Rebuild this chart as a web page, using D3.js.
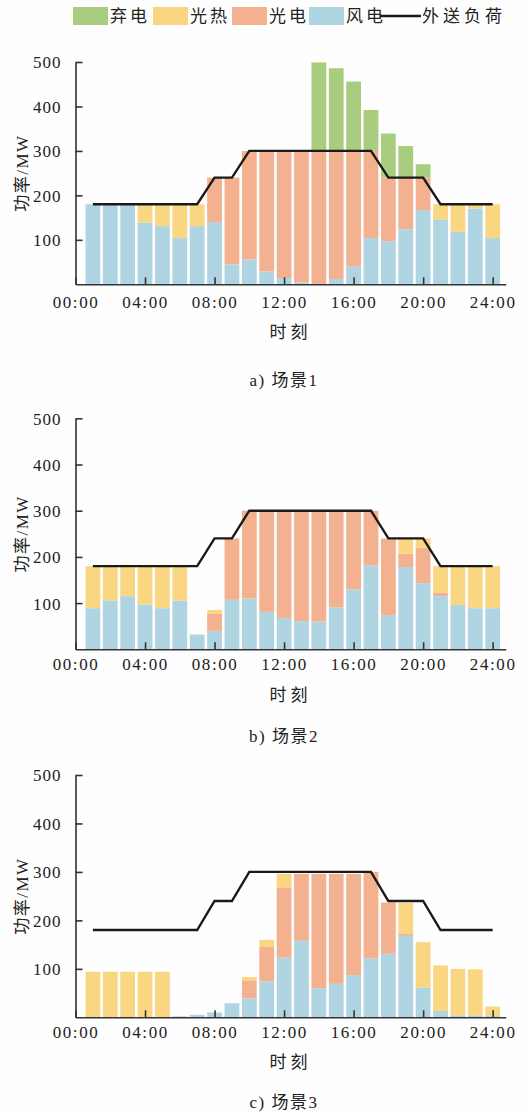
<!DOCTYPE html>
<html><head><meta charset="utf-8">
<script src="https://cdn.jsdelivr.net/npm/d3@7"></script>
<style>
html,body{margin:0;padding:0;background:#fefefe;}
svg{display:block;}
text{fill:#222;font-family:"Liberation Serif","Noto Sans CJK SC",serif;}
</style></head>
<body>
<script>
// ---------- data ----------
const hours = d3.range(1, 25);
const xTickHours = [0, 4, 8, 12, 16, 20, 24];
const xTickLabels = ["00:00", "04:00", "08:00", "12:00", "16:00", "20:00", "24:00"];
const yTicks = [100, 200, 300, 400, 500];
const seriesNames = ["风电", "光电", "光热", "弃电"];
const legendNames = ["弃电", "光热", "光电", "风电"];
const lineName = "外送负荷";
const captions = ["a) 场景1", "b) 场景2", "c) 场景3"];

const load = [180,180,180,180,180,180,180,240,240,300,300,300,300,300,300,300,300,240,240,240,180,180,180,180];

// scenario 1
const wind1    = [180,180,180,139,131,104,131,140,45,56,29,14,4,0,12,40,104,97,124,167,146,118,170,104];
const pv1      = [0,0,0,0,0,0,0,100,195,244,271,286,296,300,288,260,196,143,116,73,0,0,0,0];
const thermal1 = [0,0,0,41,49,76,49,0,0,0,0,0,0,0,0,0,0,0,0,0,34,62,10,76];
const curtail1 = [0,0,0,0,0,0,0,0,0,0,0,0,0,199,186,156,92,99,71,30,0,0,0,0];

// scenario 2
const wind2    = [89,106,115,97,89,105,32,40,107,110,81,68,61,60,91,130,182,74,178,143,115,96,89,89];
const pv2      = [0,0,0,0,0,0,0,37,133,190,219,232,239,240,209,170,118,166,29,77,8,0,0,0];
const thermal2 = [91,74,65,83,91,75,0,8,0,0,0,0,0,0,0,0,0,0,33,20,57,84,91,91];
const curtail2 = [0,0,0,0,0,0,0,0,0,0,0,0,0,0,0,0,0,0,0,0,0,0,0,0];

// scenario 3
const wind3    = [0,0,0,0,0,2,5,10,29,39,74,123,158,60,69,87,122,131,168,61,13,4,3,3];
const pv3      = [0,0,0,0,0,0,0,0,0,36,71,145,138,236,227,209,178,106,4,0,0,0,0,0];
const thermal3 = [94,94,94,94,94,0,0,0,0,8,15,28,0,0,0,0,0,0,64,94,94,96,96,19];
const curtail3 = [0,0,0,0,0,0,0,0,0,0,0,0,0,0,0,0,0,0,0,0,0,0,0,0];

const scenarios = [
  [wind1, pv1, thermal1, curtail1],
  [wind2, pv2, thermal2, curtail2],
  [wind3, pv3, thermal3, curtail3]
];

// ---------- style / layout ----------
const W = 528, H = 1115;
const colors = {"风电":"#afd5e3","光电":"#f4b18f","光热":"#fad683","弃电":"#a8cd7e"};
const panels = [
  {y0: 284.3, y500: 62,    tickY: 308,  titleY: 338,  capY: 386},
  {y0: 649.3, y500: 418.3, tickY: 670,  titleY: 701,  capY: 742},
  {y0: 1017.3,y500: 775,   tickY: 1038, titleY: 1068, capY: 1108}
];
const xLeft = 75.5, xRight = 505.7;

const svg = d3.select("body").append("svg").attr("width", W).attr("height", H);

const x = d3.scaleLinear().domain([0, 24.75]).range([xLeft, xRight]);
const xb = d3.scaleBand().domain(hours).range([x(0.5), x(24.5)]).paddingInner(0.15).paddingOuter(0.075);

const stack = d3.stack().keys(d3.range(4));

panels.forEach((p, i) => {
  const g = svg.append("g");
  const y = d3.scaleLinear().domain([0, 500]).range([p.y0, p.y500]);
  const s = scenarios[i];
  const rows = hours.map((h, k) => [s[0][k], s[1][k], s[2][k], s[3][k]]);
  const layers = stack(rows);

  layers.forEach((layer, li) => {
    g.append("g").attr("fill", colors[seriesNames[li]])
      .selectAll("rect").data(layer).join("rect")
      .attr("x", (d, k) => xb(hours[k]))
      .attr("width", xb.bandwidth())
      .attr("y", d => y(d[1]))
      .attr("height", d => Math.max(0, y(d[0]) - y(d[1])));
  });

  // load line
  g.append("path")
    .datum(load)
    .attr("fill", "none").attr("stroke", "#1a1a1a").attr("stroke-width", 2.4)
    .attr("stroke-linejoin", "miter")
    .attr("d", d3.line().x((d, k) => x(hours[k])).y(d => y(d)));

  // y axis
  const ya = g.append("g").attr("transform", `translate(${xLeft},0)`)
    .call(d3.axisLeft(y).tickValues(yTicks).tickSizeInner(-7).tickSizeOuter(0).tickPadding(14));
  ya.select(".domain").attr("stroke", "#333").attr("stroke-width", 1.6);
  ya.selectAll(".tick line").attr("stroke", "#333").attr("stroke-width", 1.6);
  ya.selectAll(".tick text").attr("font-size", 17).attr("letter-spacing", 1)
    .attr("font-family", "Liberation Serif").attr("fill", "#222").attr("dy", "0.35em");

  // x axis
  const xa = g.append("g").attr("transform", `translate(0,${p.y0})`)
    .call(d3.axisBottom(x).tickValues(xTickHours).tickSizeInner(-7).tickSizeOuter(0)
      .tickFormat((d, k) => xTickLabels[k]));
  xa.select(".domain").attr("stroke", "#333").attr("stroke-width", 1.6);
  xa.selectAll(".tick line").attr("stroke", "#333").attr("stroke-width", 1.6);
  xa.selectAll(".tick text").attr("font-size", 17).attr("letter-spacing", 1.6)
    .attr("font-family", "Liberation Serif").attr("fill", "#222")
    .attr("y", null).attr("dy", null)
    .attr("transform", `translate(0,${p.tickY - p.y0})`);

  // axis titles
  g.append("text").attr("x", (xLeft + xRight) / 2).attr("y", p.titleY)
    .attr("text-anchor", "middle").attr("font-size", 17).attr("letter-spacing", 4)
    .text("时刻");
  g.append("text")
    .attr("transform", `translate(28,${(p.y0 + p.y500) / 2}) rotate(-90)`)
    .attr("text-anchor", "middle").attr("font-size", 17).attr("letter-spacing", 1.5)
    .text("功率/MW");
  g.append("text").attr("x", 284).attr("y", p.capY)
    .attr("text-anchor", "middle").attr("font-size", 17).attr("letter-spacing", 1.5)
    .text(captions[i]);
});

// legend
const lg = svg.append("g");
const legendX = [73, 153, 232, 309];
legendNames.forEach((n, k) => {
  lg.append("rect").attr("x", legendX[k]).attr("y", 7).attr("width", 35).attr("height", 18)
    .attr("fill", colors[n]);
  lg.append("text").attr("x", legendX[k] + 37).attr("y", 22).attr("font-size", 17)
    .attr("letter-spacing", 3).text(n);
});
lg.append("line").attr("x1", 380).attr("x2", 421).attr("y1", 16).attr("y2", 16)
  .attr("stroke", "#1a1a1a").attr("stroke-width", 2.4);
lg.append("text").attr("x", 422).attr("y", 22).attr("font-size", 17)
  .attr("letter-spacing", 4).text(lineName);
</script>
</body></html>
